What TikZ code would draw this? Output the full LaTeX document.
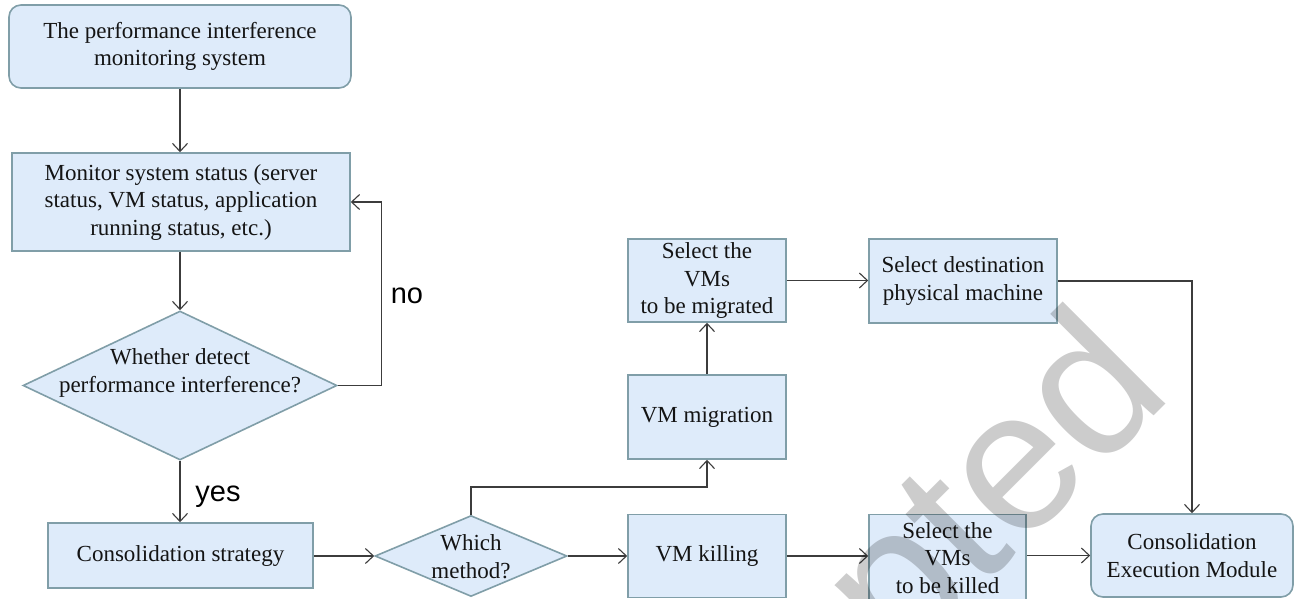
\documentclass[tikz,border=0pt]{standalone}
\usepackage{fontspec}
\setmainfont{Liberation Serif}
\newfontfamily\sansf{Liberation Sans}
\usetikzlibrary{arrows.meta,shapes.geometric}
\definecolor{boxfill}{RGB}{222,235,250}
\definecolor{boxline}{RGB}{128,158,168}
\definecolor{arrowc}{RGB}{60,60,60}
\definecolor{txtc}{RGB}{20,20,20}
\tikzset{
  boxfont/.style={font=\fontsize{23}{27.5}\selectfont},
  base/.style={draw=boxline, fill=boxfill, line width=1.6pt, inner sep=0pt, text=txtc,
    align=center, boxfont},
  rbox/.style={base, rectangle},
  rrbox/.style={base, rectangle, rounded corners=12pt},
  dbox/.style={base, diamond},
  arr/.style={draw=arrowc, line width=1.1pt, -{Straight Barb[length=8pt,width=15pt,line width=1.1pt]}},
  lab/.style={font=\sansf\fontsize{29}{29}\selectfont, text=black},
}
\begin{document}
\begin{tikzpicture}[x=1pt,y=-1pt]
\useasboundingbox (0,0) rectangle (1294,598);
\clip (0,0) rectangle (1294,598);
\fill[white] (0,0) rectangle (1294,598);
% nodes
\node[rrbox, minimum width=342pt, minimum height=83pt] (top) at (180,46.5)
  {The performance interference\\monitoring system};
\node[rbox, minimum width=338pt, minimum height=98pt] (mon) at (181,202)
  {Monitor system status (server\\status, VM status, application\\running status, etc.)};
\node[dbox, minimum width=314pt, minimum height=149pt] (d1) at (180,385.5) {};
\node[boxfont, text=txtc, align=center] (d1t) at (180,373)
  {Whether detect\\performance interference?};
\node[rbox, minimum width=265pt, minimum height=65pt] (cons) at (180.5,555.5)
  {Consolidation strategy};
\node[dbox, minimum width=192pt, minimum height=81pt] (d2) at (471,556) {};
\node[boxfont, text=txtc, align=center] (d2t) at (471,556.5) {Which\\method?};
\node[rbox, minimum width=158pt, minimum height=84pt] (mig) at (707,417) {VM migration};
\node[rbox, minimum width=158pt, minimum height=83pt] (selm) at (707,280.5)
  {Select the\\VMs\\to be migrated};
\node[rbox, minimum width=158pt, minimum height=83pt] (kill) at (707,556) {VM killing};
\node[rbox, minimum width=188pt, minimum height=84pt] (dest) at (963,281)
  {Select destination\\physical machine};
\node[rbox, minimum width=157pt, minimum height=87pt] (selk) at (947.5,558)
  {Select the\\VMs\\to be killed};
\node[rrbox, minimum width=202pt, minimum height=83pt] (exec) at (1192,555.5)
  {Consolidation\\Execution Module};
% connectors
\draw[arr] (top.south) -- (mon.north -| top.south);
\draw[arr] (mon.south -| d1.north) -- (d1.north);
\draw[arr] (d1.south) -- (cons.north -| d1.south);
\node[lab] (yes) at (218,497) {yes};
\draw[arr] (d1.east) -- ++(44,0) |- (mon.east);
\node[lab] (no) at (407,296) {no};
\draw[arr] (cons.east |- d2.west) -- (d2.west);
\coordinate (m1) at (471,487);
\draw[arr] (d2.north) -- (m1) -| (mig.south);
\draw[arr] (mig.north) -- (selm.south);
\draw[arr] (selm.east) -- (dest.west |- selm.east);
\draw[arr] (dest.east) -| (exec.north);
\draw[arr] (d2.east) -- (kill.west);
\draw[arr] (kill.east) -- (selk.west |- kill.east);
\draw[arr] (selk.east |- exec.west) -- (exec.west);
% watermark
\node[font=\sansf\fontsize{200}{200}\selectfont, text=black, opacity=0.2, rotate=45,
  anchor=base east] (wm) at (1178,392) {Accepted};
\end{tikzpicture}
\end{document}
